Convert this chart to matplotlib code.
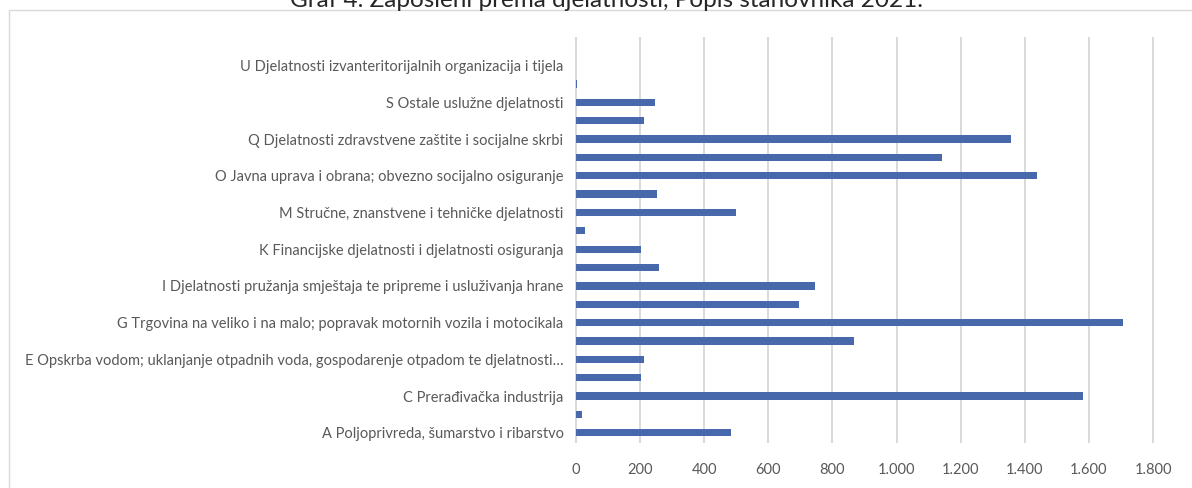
import matplotlib
matplotlib.use("Agg")
import matplotlib.pyplot as plt
from matplotlib.patches import Rectangle
from matplotlib.ticker import FuncFormatter, MultipleLocator

plt.rcParams['font.family'] = ['Lato', 'DejaVu Sans']

title = "Graf 4. Zaposleni prema djelatnosti, Popis stanovnika 2021."

categories = [
    "A Poljoprivreda, šumarstvo i ribarstvo",
    "B Rudarstvo i vađenje",
    "C Prerađivačka industrija",
    "D Opskrba električnom energijom, plinom, parom i klimatizacija",
    "E Opskrba vodom; uklanjanje otpadnih voda, gospodarenje otpadom te djelatnosti…",
    "F Građevinarstvo",
    "G Trgovina na veliko i na malo; popravak motornih vozila i motocikala",
    "H Prijevoz i skladištenje",
    "I Djelatnosti pružanja smještaja te pripreme i usluživanja hrane",
    "J Informacije i komunikacije",
    "K Financijske djelatnosti i djelatnosti osiguranja",
    "L Poslovanje nekretninama",
    "M Stručne, znanstvene i tehničke djelatnosti",
    "N Administrativne i pomoćne uslužne djelatnosti",
    "O Javna uprava i obrana; obvezno socijalno osiguranje",
    "P Obrazovanje",
    "Q Djelatnosti zdravstvene zaštite i socijalne skrbi",
    "R Umjetnost, zabava i rekreacija",
    "S Ostale uslužne djelatnosti",
    "T Djelatnosti kućanstava kao poslodavaca",
    "U Djelatnosti izvanteritorijalnih organizacija i tijela",
]

values = [483, 18, 1583, 202, 212, 866, 1707, 695, 745, 260, 204, 28,
          500, 254, 1438, 1143, 1358, 212, 245, 3, 0]

W, H = 1192, 488
fig = plt.figure(figsize=(W / 100, H / 100), dpi=100)

left, right = 576 / W, 1153 / W
top, bottom = 1 - 38 / H, 1 - 442 / H
ax = fig.add_axes([left, bottom, right - left, top - bottom])

pos = list(range(len(categories)))
ax.barh(pos, values, height=0.4, color='#4868AC', zorder=3)

ax.set_xlim(0, 1800)
ax.set_ylim(-0.5, len(categories) + 0.5)
ax.xaxis.set_major_locator(MultipleLocator(200))
ax.xaxis.set_major_formatter(FuncFormatter(lambda x, p: f"{x:,.0f}".replace(",", ".")))
ax.set_yticks(pos)
ax.set_yticklabels([c if i % 2 == 0 else "" for i, c in enumerate(categories)])

ax.grid(axis='x', color='#D9D9D9', linewidth=1.4, zorder=0)
for gl in ax.get_xgridlines():
    gl.set_clip_on(False)
ax.set_axisbelow(True)
for s in ax.spines.values():
    s.set_visible(False)

ax.tick_params(axis='x', length=0, pad=15, labelsize=10.5, labelcolor='#595959')
ax.tick_params(axis='y', length=0, pad=9, labelsize=10.5, labelcolor='#595959')

fig.add_artist(Rectangle((8.5 / W, -0.05), 1.2, (1 - 9.5 / H) + 0.05,
                         transform=fig.transFigure, fill=False,
                         edgecolor='#D9D9D9', linewidth=1))

fig.text(607 / W, 1 - 7 / H, title, ha='center', va='baseline',
         fontsize=17.5, color='#262626')

fig.savefig("out.png", dpi=100)
